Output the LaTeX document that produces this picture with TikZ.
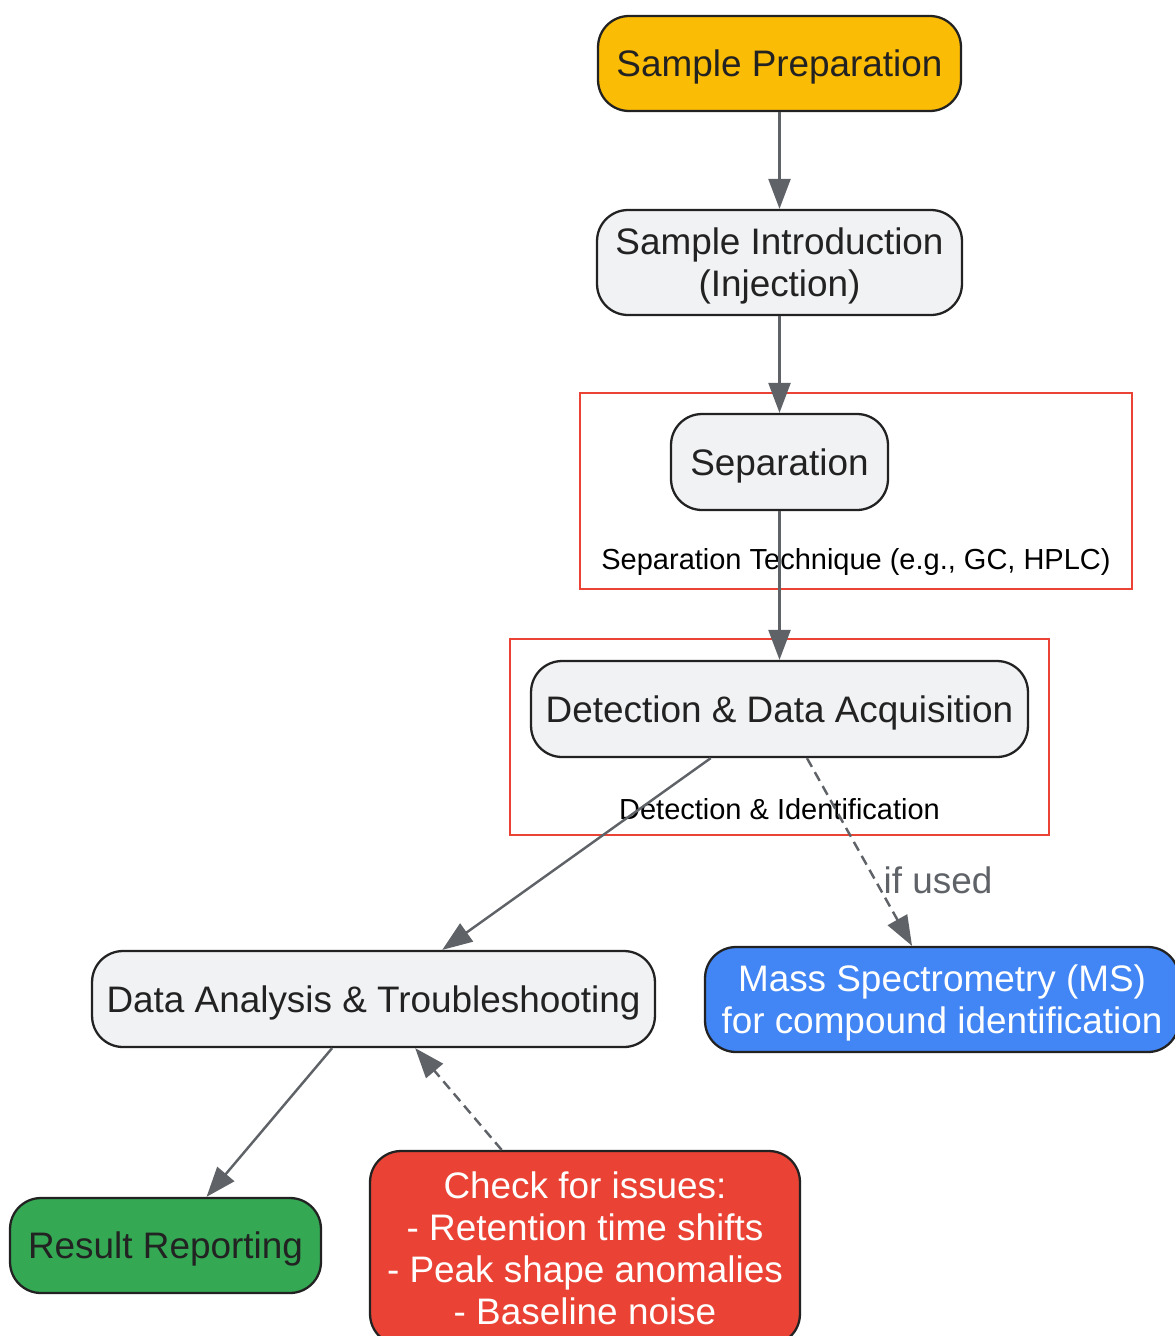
\documentclass[tikz,border=0pt]{standalone}
\usepackage{fontspec}
\setmainfont{Liberation Sans}
\usetikzlibrary{arrows.meta}
\definecolor{gyellow}{HTML}{FBBC05}
\definecolor{ggray}{HTML}{F1F2F4}
\definecolor{gblue}{HTML}{4285F4}
\definecolor{ggreen}{HTML}{34A853}
\definecolor{gred}{HTML}{EA4335}
\definecolor{darkline}{HTML}{222222}
\definecolor{edgegray}{HTML}{5F6368}
\tikzset{
  box/.style={draw=darkline, line width=1.3pt, rounded corners=0.62cm, align=center,
    text=darkline, inner sep=0pt, text depth=0pt, font=\fontsize{21}{24}\selectfont},
  flow/.style={draw=edgegray, line width=1.4pt, -{Triangle[length=0.6cm,width=0.44cm]}},
  optional/.style={flow, dash pattern=on 0.2cm off 0.12cm},
  group/.style={draw=gred, line width=1.2pt},
  grouplabel/.style={text=black, font=\fontsize{16.5}{19}\selectfont},
}
\begin{document}
\begin{tikzpicture}[x=0.02cm, y=-0.02cm]
  \useasboundingbox (0,0) rectangle (1175,1336);
  % clusters
  \draw[group] (580,393) rectangle (1132,589);
  \node[grouplabel] (seplabel) at (856,562) {Separation Technique (e.g., GC, HPLC)};
  \draw[group] (510,639) rectangle (1049,835);
  \node[grouplabel] (detlabel) at (779.5,809) {Detection \& Identification};
  % nodes
  \node[box, fill=gyellow, minimum width=7.26cm, minimum height=1.9cm] (prep) at (779.5,63.5) {Sample Preparation};
  \node[box, fill=ggray, minimum width=7.3cm, minimum height=2.1cm] (intro) at (779.5,262.5) {Sample Introduction\\(Injection)};
  \node[box, fill=ggray, minimum width=4.34cm, minimum height=1.92cm] (sep) at (779.5,462) {Separation};
  \node[box, fill=ggray, minimum width=9.94cm, minimum height=1.92cm] (det) at (779.5,709) {Detection \& Data Acquisition};
  \node[box, fill=ggray, minimum width=11.26cm, minimum height=1.92cm] (analysis) at (373.5,999) {Data Analysis \& Troubleshooting};
  \node[box, fill=gblue, text=white, minimum width=9.48cm, minimum height=2.1cm] (ms) at (942,999.5) {Mass Spectrometry (MS)\\for compound identification};
  \node[box, fill=ggreen, minimum width=6.22cm, minimum height=1.9cm] (report) at (165.5,1245.5) {Result Reporting};
  \node[box, fill=gred, text=white, minimum width=8.6cm, minimum height=3.88cm] (check) at (585,1248) {Check for issues:\\- Retention time shifts\\- Peak shape anomalies\\- Baseline noise};
  % arrows
  \draw[flow] (prep) -- (intro);
  \draw[flow] (intro) -- (sep);
  \draw[flow] (sep) -- (det);
  \draw[flow] (det) -- (analysis);
  \draw[optional] (det) -- (ms);
  \draw[flow] (analysis) -- (report);
  \draw[optional] (check) -- (analysis);
  % text
  \node[text=edgegray, font=\fontsize{21}{24}\selectfont] (ifused) at (938,880) {if used};
\end{tikzpicture}
\end{document}
